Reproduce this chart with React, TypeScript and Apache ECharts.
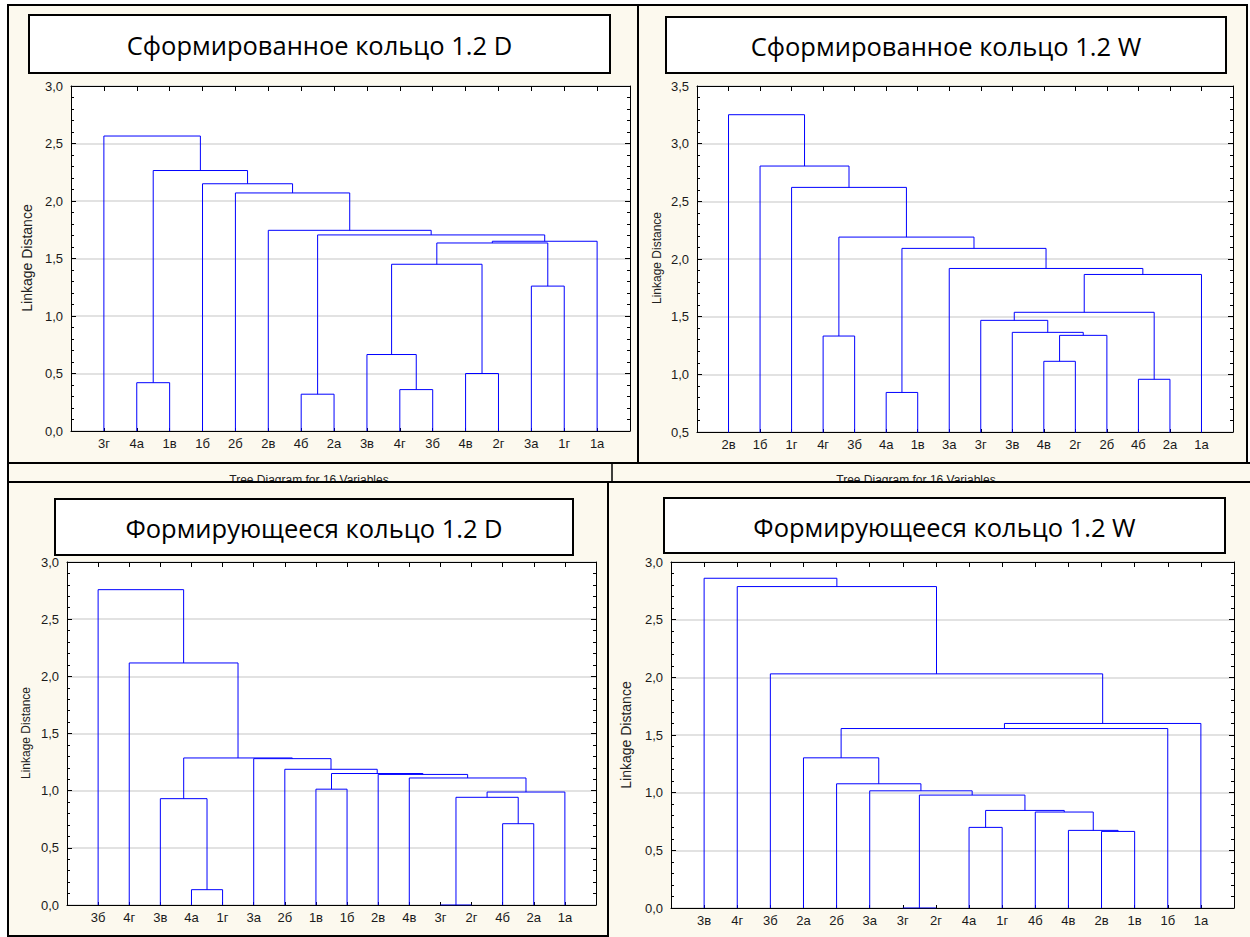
import React, { useEffect, useRef } from 'react';
import * as echarts from 'echarts';

// ---------- data ----------
const P1_TITLE = 'Сформированное кольцо 1.2 D';
const P1_LEAVES = ['3г', '4а', '1в', '1б', '2б', '2в', '4б', '2а', '3в', '4г', '3б', '4в', '2г', '3а', '1г', '1а'];
const P1_LEFT = [1, 6, 9, 8, 11, 19, 13, 21, 23, 17, 5, 4, 3, 16, 0];
const P1_RIGHT = [2, 7, 10, 18, 12, 20, 14, 22, 15, 24, 25, 26, 27, 28, 29];
const P1_HEIGHT = [0.42, 0.32, 0.36, 0.665, 0.5, 1.45, 1.26, 1.635, 1.65, 1.705, 1.745, 2.07, 2.15, 2.265, 2.565];
const P1_Y = [0, 3];

const P2_TITLE = 'Сформированное кольцо 1.2 W';
const P2_LEAVES = ['2в', '1б', '1г', '4г', '3б', '4а', '1в', '3а', '3г', '3в', '4в', '2г', '2б', '4б', '2а', '1а'];
const P2_LEFT = [3, 5, 10, 18, 9, 8, 13, 21, 23, 7, 17, 16, 2, 1, 0];
const P2_RIGHT = [4, 6, 11, 12, 19, 20, 14, 22, 15, 24, 25, 26, 27, 28, 29];
const P2_HEIGHT = [1.332, 0.843, 1.113, 1.338, 1.364, 1.468, 0.957, 1.538, 1.866, 1.918, 2.092, 2.19, 2.621, 2.806, 3.251];
const P2_Y = [0.5, 3.5];

const P3_TITLE = 'Формирующееся кольцо 1.2 D';
const P3_LEAVES = ['3б', '4г', '3в', '4а', '1г', '3а', '2б', '1в', '1б', '2в', '4в', '3г', '2г', '4б', '2а', '1а'];
const P3_LEFT = [3, 2, 11, 13, 18, 20, 10, 9, 7, 24, 6, 5, 17, 1, 0];
const P3_RIGHT = [4, 16, 12, 14, 19, 15, 21, 22, 8, 23, 25, 26, 27, 28, 29];
const P3_HEIGHT = [0.134, 0.93, 0.0, 0.711, 0.942, 0.988, 1.111, 1.142, 1.013, 1.15, 1.187, 1.28, 1.286, 2.117, 2.758];
const P3_Y = [0, 3];

const P4_TITLE = 'Формирующееся кольцо 1.2 W';
const P4_LEAVES = ['3в', '4г', '3б', '2а', '2б', '3а', '3г', '2г', '4а', '1г', '4б', '4в', '2в', '1в', '1б', '1а'];
const P4_LEFT = [12, 11, 10, 8, 19, 6, 21, 5, 4, 3, 25, 26, 2, 1, 0];
const P4_RIGHT = [13, 16, 17, 9, 18, 7, 20, 22, 23, 24, 14, 15, 27, 28, 29];
const P4_HEIGHT = [0.664, 0.673, 0.832, 0.699, 0.846, 0.0, 0.979, 1.016, 1.077, 1.302, 1.556, 1.6, 2.03, 2.787, 2.859];
const P4_Y = [0, 3];

const Y_NAME = 'Linkage Distance';
const FOOT_TEXT = 'Tree Diagram for 16 Variables';

// ---------- layout (pixels) ----------
const CREAM = '#fcf9ee';
const BLUE = '#0000ff';
const AXIS_FONT = '"Liberation Sans", Arial, sans-serif';
const TITLE_FONT = '"Open Sans", "Noto Sans", sans-serif';

type Panel = {
  title: string; leaves: string[]; left: number[]; right: number[]; heights: number[]; yr: number[];
  frame: number[]; tbox: number[]; plot: number[]; yname: number[]; ynameSize: number;
};

const PANELS: Panel[] = [
  { title: P1_TITLE, leaves: P1_LEAVES, left: P1_LEFT, right: P1_RIGHT, heights: P1_HEIGHT, yr: P1_Y,
    frame: [8, 5, 630, 458], tbox: [29, 15, 581, 58], plot: [71, 86, 559, 345], yname: [27, 258], ynameSize: 14 },
  { title: P2_TITLE, leaves: P2_LEAVES, left: P2_LEFT, right: P2_RIGHT, heights: P2_HEIGHT, yr: P2_Y,
    frame: [638, 5, 609, 458], tbox: [666, 17, 560, 56], plot: [697, 86, 536, 346], yname: [657, 258], ynameSize: 12 },
  { title: P3_TITLE, leaves: P3_LEAVES, left: P3_LEFT, right: P3_RIGHT, heights: P3_HEIGHT, yr: P3_Y,
    frame: [8, 482, 600, 454], tbox: [55, 499, 518, 56], plot: [67, 562, 529, 343], yname: [26, 733], ynameSize: 12 },
  { title: P4_TITLE, leaves: P4_LEAVES, left: P4_LEFT, right: P4_RIGHT, heights: P4_HEIGHT, yr: P4_Y,
    frame: [608, 482, 650, 462], tbox: [664, 498, 561, 55], plot: [671, 562, 563, 346], yname: [626, 735], ynameSize: 14 },
];

function buildLinks(p: Panel) {
  const pos: number[] = p.leaves.map((_, i) => i + 1);
  const h: number[] = p.leaves.map(() => 0);
  const out: any[] = [];
  for (let k = 0; k < p.heights.length; k++) {
    const a = p.left[k], b = p.right[k], H = p.heights[k];
    const x1 = pos[a], x2 = pos[b];
    out.push({ coords: [[x1, h[a]], [x1, H], [x2, H], [x2, h[b]]] });
    pos.push((x1 + x2) / 2);
    h.push(H);
  }
  return out;
}

function buildOption() {
  const grid: any[] = [], xAxis: any[] = [], yAxis: any[] = [], series: any[] = [];
  const bg: any[] = [];
  const fg: any[] = [];

  // strip between the top and bottom screenshots
  bg.push({ type: 'rect', z: -10, shape: { x: 8, y: 463, width: 1250, height: 20 },
    style: { fill: CREAM, stroke: '#000', lineWidth: 2 } });
  bg.push({ type: 'line', z: -9, shape: { x1: 612, y1: 463, x2: 612, y2: 483 }, style: { stroke: '#000', lineWidth: 1.5 } });
  bg.push({ type: 'text', z: -9, x: 309, y: 474, style: { text: FOOT_TEXT, fill: '#222', font: `12px ${AXIS_FONT}`, textAlign: 'center', textVerticalAlign: 'top' } });
  bg.push({ type: 'text', z: -9, x: 916, y: 474, style: { text: FOOT_TEXT, fill: '#222', font: `12px ${AXIS_FONT}`, textAlign: 'center', textVerticalAlign: 'top' } });

  PANELS.forEach((p, i) => {
    const [fx, fy, fw, fh] = p.frame;
    bg.push({ type: 'rect', z: -8, shape: { x: fx, y: fy, width: fw, height: fh },
      style: { fill: CREAM, stroke: '#000', lineWidth: 2 } });
    const [tx, ty, tw, th] = p.tbox;
    fg.push({ type: 'rect', z: -6, shape: { x: tx, y: ty, width: tw, height: th },
      style: { fill: '#fff', stroke: '#000', lineWidth: 2 } });
    fg.push({ type: 'text', z: -5, x: tx + tw / 2, y: ty + th / 2 + 1,
      style: { text: p.title, fill: '#000', font: `25.5px ${TITLE_FONT}`, textAlign: 'center', textVerticalAlign: 'middle' } });
    fg.push({ type: 'text', z: -5, x: p.yname[0], y: p.yname[1], rotation: Math.PI / 2,
      style: { text: Y_NAME, fill: '#222', font: `${p.ynameSize}px ${AXIS_FONT}`, textAlign: 'center', textVerticalAlign: 'middle' } });

    const [px, py, pw, ph] = p.plot;
    grid.push({ left: px, top: py, width: pw, height: ph, show: true, backgroundColor: '#fff', borderWidth: 0 });

    const leaves = p.leaves;
    xAxis.push({
      type: 'value', gridIndex: i, min: 0, max: leaves.length + 1, interval: 1, position: 'bottom',
      axisLine: { show: true, onZero: false, lineStyle: { color: '#000', width: 1 } },
      axisTick: { show: true, inside: true, length: 3, lineStyle: { color: '#000' } },
      splitLine: { show: false },
      axisLabel: { show: true, margin: 6, color: '#1a1a1a', fontSize: 13, fontFamily: AXIS_FONT,
        formatter: (v: number) => leaves[Math.round(v) - 1] ?? '' },
    });
    xAxis.push({
      type: 'value', gridIndex: i, min: 0, max: leaves.length + 1, interval: 1, position: 'top',
      axisLine: { show: true, onZero: false, lineStyle: { color: '#000', width: 1 } },
      axisTick: { show: true, inside: true, length: 5, lineStyle: { color: '#000' } },
      splitLine: { show: false }, axisLabel: { show: false },
    });
    yAxis.push({
      type: 'value', gridIndex: i, min: p.yr[0], max: p.yr[1], interval: 0.5, position: 'left',
      axisLine: { show: true, onZero: false, lineStyle: { color: '#000', width: 1 } },
      axisTick: { show: true, inside: true, length: 5, lineStyle: { color: '#000' } },
      minorTick: { show: true, splitNumber: 5, length: 3, lineStyle: { color: '#000' } },
      splitLine: { show: true, lineStyle: { color: '#d9d9d9', width: 1.5 } },
      axisLabel: { show: true, margin: 8, color: '#1a1a1a', fontSize: 13, fontFamily: AXIS_FONT,
        formatter: (v: number) => v.toFixed(1).replace('.', ',') },
    });
    yAxis.push({
      type: 'value', gridIndex: i, min: p.yr[0], max: p.yr[1], interval: 0.5, position: 'right',
      axisLine: { show: true, onZero: false, lineStyle: { color: '#000', width: 1 } },
      axisTick: { show: true, inside: true, length: 5, lineStyle: { color: '#000' } },
      minorTick: { show: true, splitNumber: 5, length: 3, lineStyle: { color: '#000' } },
      splitLine: { show: false }, axisLabel: { show: false },
    });
    series.push({
      type: 'lines', coordinateSystem: 'cartesian2d', polyline: true,
      xAxisIndex: 2 * i, yAxisIndex: 2 * i, silent: true, z: 5,
      lineStyle: { color: BLUE, width: 1, opacity: 1 },
      data: buildLinks(p),
    });
  });

  return {
    animation: false,
    backgroundColor: '#ffffff',
    grid, xAxis, yAxis, series,
    graphic: { elements: [...bg, ...fg] },
  };
}

export default function App() {
  const ref = useRef<HTMLDivElement>(null);
  useEffect(() => {
    const chart = echarts.init(ref.current as HTMLDivElement, null, { renderer: 'svg' });
    chart.setOption(buildOption() as any);
    return () => chart.dispose();
  }, []);
  return <div ref={ref} style={{ position: 'fixed', left: 0, top: 0, width: 1250, height: 937 }} />;
}
